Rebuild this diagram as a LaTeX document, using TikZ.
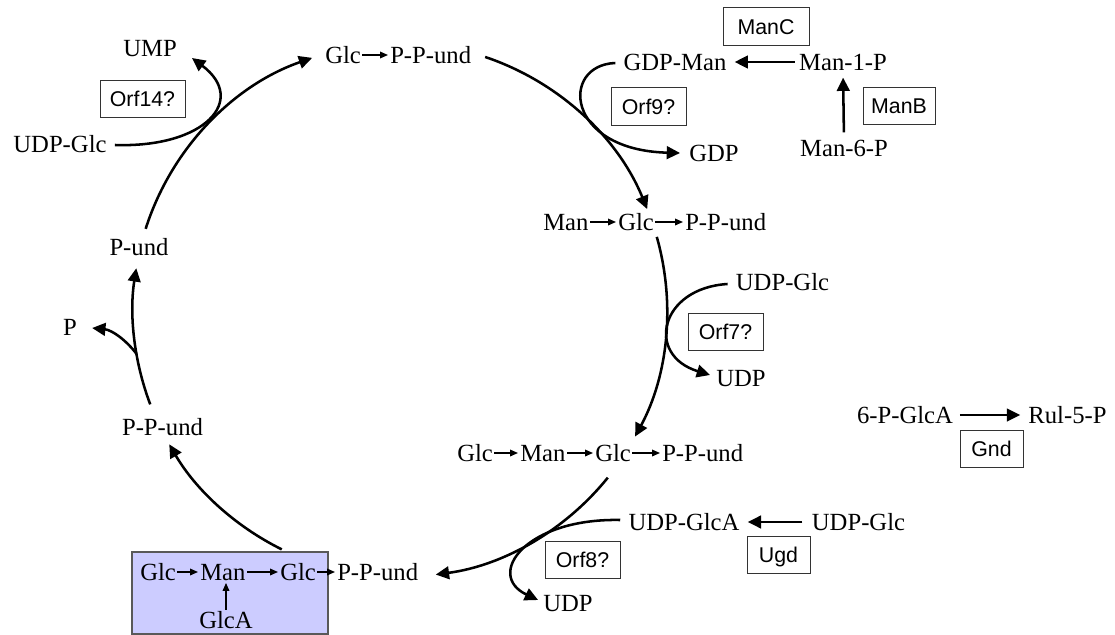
\documentclass[tikz,border=0pt]{standalone}
\usepackage{fontspec}
\setmainfont{Liberation Serif}
\setsansfont{Liberation Sans}
\usetikzlibrary{arrows.meta,calc}
\definecolor{panelfill}{RGB}{204,204,255}
\begin{document}
\begin{tikzpicture}[x=0.75pt,y=-0.75pt,
  lbl/.style={font=\fontsize{18.5}{20}\selectfont, inner sep=0pt, text height=13pt, text depth=0pt},
  enz/.style={draw=black!80, line width=0.7pt, font=\sffamily\fontsize{16}{18}\selectfont,
              inner sep=0pt, text height=11.5pt, text depth=0pt, minimum height=28pt},
  flow/.style={line width=1.9pt, -{Triangle[length=10pt,width=9.5pt]}},
  bond/.style={line width=1pt, -{Triangle[length=6pt,width=5pt]}, shorten <=1pt, shorten >=1.5pt},
  panel/.style={draw=black!65, line width=1pt, fill=panelfill}]
\useasboundingbox (0,0) rectangle (1115,635);

% centre of the lipid carrier cycle
\coordinate (hub) at (400,310);

% shaded final product
\node[panel, minimum width=147pt, minimum height=61.5pt] (pane) at (230,593) {};

% intermediates on the cycle
\node[lbl,anchor=west] (tGlc) at (325,55) {Glc};
\node[lbl,anchor=west] (tPP) at (390,55) {P-P-und};
\draw[bond] (tGlc.east) -- (tPP.west);

\node[lbl,anchor=west] (bMan) at (543,222) {Man};
\node[lbl,anchor=west] (bGlc) at (618,222) {Glc};
\node[lbl,anchor=west] (bPP) at (685,222) {P-P-und};
\draw[bond] (bMan.east) -- (bGlc.west);
\draw[bond] (bGlc.east) -- (bPP.west);

\node[lbl,anchor=west] (cGlc) at (457,453) {Glc};
\node[lbl,anchor=west] (cMan) at (520,453) {Man};
\node[lbl,anchor=west] (cGlcb) at (595,453) {Glc};
\node[lbl,anchor=west] (cPP) at (662,453) {P-P-und};
\draw[bond] (cGlc.east) -- (cMan.west);
\draw[bond] (cMan.east) -- (cGlcb.west);
\draw[bond] (cGlcb.east) -- (cPP.west);

\node[lbl,anchor=west] (pGlc) at (140,572) {Glc};
\node[lbl,anchor=west] (pMan) at (200,572) {Man};
\node[lbl,anchor=west] (pGlcb) at (280,572) {Glc};
\node[lbl,anchor=west] (pPP) at (337,572) {P-P-und};
\node[lbl] (pGlcA) at (226,620) {GlcA};
\draw[bond] (pGlc.east) -- (pMan.west);
\draw[bond] (pMan.east) -- (pGlcb.west);
\draw[bond] (pGlcb.east) -- (pPP.west);
\draw[bond] (pGlcA.north) -- (pGlcA.north |- pMan.south);

\node[lbl] (ppund) at (162.5,427) {P-P-und};
\node[lbl] (pund) at (139,247) {P-und};
\node[lbl] (pfree) at (70,327) {P};

% side substrates and products
\node[lbl] (ump) at (150,48) {UMP};
\node[lbl] (udpglcL) at (60,144) {UDP-Glc};
\node[lbl] (gdpman) at (675,62) {GDP-Man};
\node[lbl] (man1p) at (843,62) {Man-1-P};
\node[lbl] (man6p) at (844,148) {Man-6-P};
\node[lbl] (gdp) at (714,153) {GDP};
\node[lbl] (udpglcR) at (782.5,282) {UDP-Glc};
\node[lbl] (udpR) at (741,378) {UDP};
\node[lbl] (udpglca) at (684,522) {UDP-GlcA};
\node[lbl] (udpglcB) at (858.5,522) {UDP-Glc};
\node[lbl] (udpB) at (568,603) {UDP};
\node[lbl] (pglca) at (905,415) {6-P-GlcA};
\node[lbl] (rul) at (1067.5,415) {Rul-5-P};

% enzymes
\node[enz, minimum width=63.75pt] (orf14) at (142.5,99) {Orf14?};
\node[enz, minimum width=64.5pt] (manC) at (766,26.5) {ManC};
\node[enz, minimum width=54pt] (manB) at (899,106) {ManB};
\node[enz, minimum width=56.25pt] (orf9) at (648.5,106.5) {Orf9?};
\node[enz, minimum width=56.25pt] (orf7) at (725.5,332) {Orf7?};
\node[enz, minimum width=56.25pt] (orf8) at (582.5,560) {Orf8?};
\node[enz, minimum width=47.25pt] (ugd) at (778.5,555) {Ugd};
\node[enz, minimum width=47.25pt] (gnd) at (991.5,449) {Gnd};

% the cycle, drawn as arcs of one circle
\draw[flow] ($(hub)+(162.3:200.25pt)$) arc[start angle=162.3, end angle=109.2, radius=200.25pt];
\draw[flow] ($(hub)+(71.4:200.25pt)$) arc[start angle=71.4, end angle=22.2, radius=200.25pt];
\draw[flow] ($(hub)+(15.9:200.25pt)$) arc[start angle=15.9, end angle=-28.3, radius=200.25pt];
\draw[flow] ($(hub)+(-38.9:200.25pt)$) arc[start angle=-38.9, end angle=-82.3, radius=200.25pt];
\draw[flow] ($(hub)+(-116.3:200.25pt)$) arc[start angle=-116.3, end angle=-149.8, radius=200.25pt];
\draw[flow] ($(hub)+(-159.3:200.25pt)$) arc[start angle=-159.3, end angle=-189, radius=200.25pt];
\coordinate (fork) at ($(hub)+(-170.5:200.25pt)$);

% side reactions
\draw[flow] ([shift={(8,1)}]udpglcL.east) .. controls (205,148) and (248,100) .. ([shift={(15,10)}]ump.east);
\draw[flow] ([shift={(-8,1)}]gdpman.west) .. controls (560,65) and (565,150) .. ([shift={(-9,0)}]gdp.west);
\draw[flow] ([shift={(-8,2)}]udpglcR.west) .. controls (660,288) and (645,355) .. ([shift={(-6,-3)}]udpR.west);
\draw[flow] ([shift={(-8,-2)}]udpglca.west) .. controls (525,518) and (485,575) .. ([shift={(-5,-3)}]udpB.west);
\draw[flow] (fork) .. controls (126,340) and (112,330) .. ([shift={(15,1)}]pfree.east);

% precursor supply
\draw[flow, shorten <=3pt, shorten >=6pt] (man1p.west) -- (gdpman.east);
\draw[flow, shorten <=5pt, shorten >=5pt] (man6p.north) -- (man1p.south);
\draw[flow, shorten <=7pt, shorten >=6pt] (udpglcB.west) -- (udpglca.east);
\draw[flow, shorten <=5pt, shorten >=6pt] (pglca.east) -- (rul.west);
\end{tikzpicture}
\end{document}
